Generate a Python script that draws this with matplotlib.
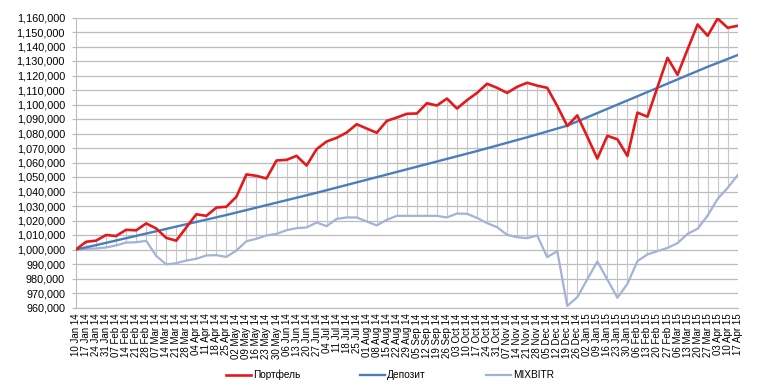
import numpy as np
import matplotlib
matplotlib.use("Agg")
import matplotlib.pyplot as plt
from matplotlib.ticker import FuncFormatter

weeks = ["10 Jan 14", "17 Jan 14", "24 Jan 14", "31 Jan 14", "07 Feb 14", "14 Feb 14", "21 Feb 14",
         "28 Feb 14", "07 Mar 14", "14 Mar 14", "21 Mar 14", "28 Mar 14", "04 Apr 14", "11 Apr 14",
         "18 Apr 14", "25 Apr 14", "02 May 14", "09 May 14", "16 May 14", "23 May 14", "30 May 14",
         "06 Jun 14", "13 Jun 14", "20 Jun 14", "27 Jun 14", "04 Jul 14", "11 Jul 14", "18 Jul 14",
         "25 Jul 14", "01 Aug 14", "08 Aug 14", "15 Aug 14", "22 Aug 14", "29 Aug 14", "05 Sep 14",
         "12 Sep 14", "19 Sep 14", "26 Sep 14", "03 Oct 14", "10 Oct 14", "17 Oct 14", "24 Oct 14",
         "31 Oct 14", "07 Nov 14", "14 Nov 14", "21 Nov 14", "28 Nov 14", "05 Dec 14", "12 Dec 14",
         "19 Dec 14", "26 Dec 14", "02 Jan 15", "09 Jan 15", "16 Jan 15", "23 Jan 15", "30 Jan 15",
         "06 Feb 15", "13 Feb 15", "20 Feb 15", "27 Feb 15", "06 Mar 15", "13 Mar 15", "20 Mar 15",
         "27 Mar 15", "03 Apr 15", "10 Apr 15", "17 Apr 15"]

# values in thousands
portfel = [1000.0, 1005.3, 1006.1, 1010.0, 1009.3, 1013.6, 1013.2, 1018.0, 1014.5, 1008.0,
           1006.1, 1015.2, 1024.3, 1023.2, 1028.9, 1029.5, 1036.4, 1051.8, 1050.8, 1049.0,
           1061.4, 1061.8, 1064.6, 1057.9, 1069.2, 1074.5, 1077.0, 1080.7, 1086.4, 1083.4,
           1080.5, 1088.7, 1091.0, 1093.6, 1093.8, 1100.9, 1099.3, 1104.1, 1097.2, 1103.0,
           1108.0, 1114.3, 1111.5, 1108.0, 1112.2, 1115.0, 1113.0, 1111.5, 1099.0, 1085.2,
           1092.5, 1077.8, 1062.7, 1078.4, 1076.0, 1064.5, 1094.4, 1091.6, 1112.0, 1132.2,
           1120.5, 1138.0, 1155.2, 1147.4, 1159.3, 1152.9, 1154.3]

depozit = [1000.0, 1001.5, 1003.0, 1004.6, 1006.2, 1007.8, 1009.4, 1011.0, 1012.6, 1014.2,
           1015.8, 1017.4, 1019.0, 1020.6, 1022.2, 1023.8, 1025.5, 1027.2, 1028.9, 1030.6,
           1032.3, 1034.0, 1035.7, 1037.4, 1039.1, 1040.9, 1042.7, 1044.5, 1046.3, 1048.1,
           1049.9, 1051.7, 1053.5, 1055.3, 1057.1, 1058.9, 1060.7, 1062.5, 1064.3, 1066.1,
           1067.9, 1069.8, 1071.7, 1073.6, 1075.5, 1077.4, 1079.4, 1081.4, 1083.4, 1085.4,
           1088.3, 1091.2, 1094.1, 1097.0, 1099.9, 1102.8, 1105.7, 1108.6, 1111.5, 1114.4,
           1117.3, 1120.2, 1123.1, 1126.0, 1128.7, 1131.4, 1134.1]

mixbitr = [1000.0, 1000.5, 1000.7, 1001.4, 1002.8, 1004.8, 1005.0, 1006.0, 995.6, 989.7,
           990.6, 992.4, 993.6, 995.9, 996.1, 994.9, 999.3, 1005.7, 1007.4, 1009.7,
           1010.8, 1013.3, 1014.7, 1015.2, 1018.6, 1016.1, 1021.1, 1022.1, 1022.1, 1019.3,
           1016.6, 1020.5, 1023.2, 1023.2, 1023.2, 1023.2, 1023.2, 1022.1, 1024.8, 1024.6,
           1021.8, 1018.2, 1015.4, 1010.1, 1008.5, 1007.8, 1009.7, 994.7, 998.9, 961.1,
           967.1, 979.5, 991.7, 979.3, 966.7, 976.3, 992.0, 996.6, 998.9, 1001.1,
           1004.4, 1010.8, 1014.3, 1023.4, 1034.9, 1042.5, 1051.3]

plt.rcParams['font.family'] = ['Liberation Sans', 'DejaVu Sans']

p = np.array(portfel) * 1000
d = np.array(depozit) * 1000
m = np.array(mixbitr) * 1000
x = np.arange(len(weeks))

fig = plt.figure(figsize=(7.59, 3.91), dpi=100)
ax = fig.add_axes([76 / 759, 1 - 307.5 / 391, (737.7 - 76) / 759, 290 / 391])

# size fonts so the label widths match the reference (pixels)
fig.canvas.draw()
r = fig.canvas.get_renderer()
def fit(s, target):
    t = fig.text(0, 0, s, fontsize=10)
    w = t.get_window_extent(r).width
    t.remove()
    return 10 * target / w
fs_y = fit("1,160,000", 48)
fs_x = fit("10 Jan 14", 43)
fs_leg = fit("Портфель", 48)
px = fs_leg * 100 / 72

# high-low lines
stack = np.vstack([p, d, m])
ax.vlines(x, stack.min(axis=0), stack.max(axis=0), color='#c8c8c8', lw=0.8, zorder=1)

ax.plot(x, m, color='#a3b3d6', lw=1.6, label='MIXBITR', zorder=3)
ax.plot(x, d, color='#4a7ebb', lw=1.7, label='Депозит', zorder=4)
ax.plot(x, p, color='#e3191c', lw=1.9, label='Портфель', zorder=5)

ax.set_xlim(0, len(weeks) - 1)
ax.set_ylim(960000, 1160000)
ax.set_yticks(np.arange(960000, 1160001, 10000))
ax.yaxis.set_major_formatter(FuncFormatter(lambda v, pos: f"{v:,.0f}"))
ax.grid(axis='y', color='#bcbcbc', lw=0.9)
ax.set_axisbelow(True)
ax.set_xticks(x)
ax.set_xticklabels(weeks, rotation=90, fontsize=fs_x)
ax.tick_params(axis='y', labelsize=fs_y, length=2.9, width=0.9, color='#bcbcbc', pad=5)
ax.tick_params(axis='x', length=0, pad=4.3)
for s in ['top', 'right']:
    ax.spines[s].set_visible(False)
for s in ['left', 'bottom']:
    ax.spines[s].set_color('#bcbcbc')

h, l = ax.get_legend_handles_labels()
fig.legend(h[::-1], l[::-1], loc='center', bbox_to_anchor=(390 / 759, 1 - 375 / 391),
           ncol=3, frameon=False, fontsize=fs_leg, handlelength=25 / px,
           handletextpad=2 / px, columnspacing=60 / px)

fig.savefig('out.png', dpi=100)
